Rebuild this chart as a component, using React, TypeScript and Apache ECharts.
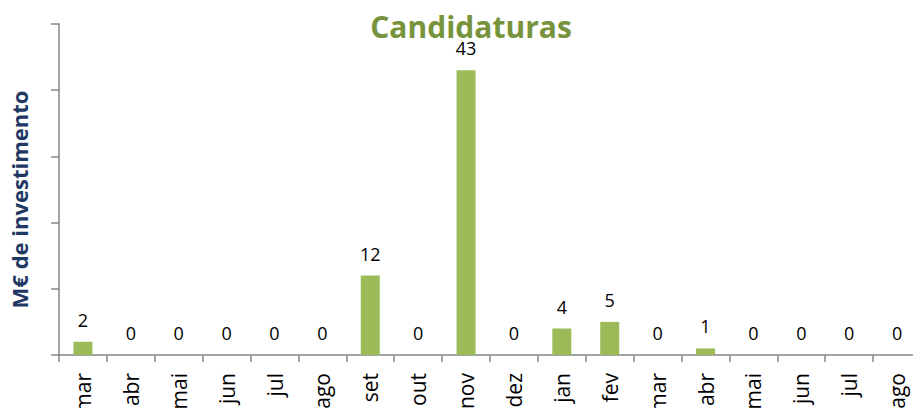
import React, { useEffect, useRef } from "react";
import * as echarts from "echarts";

const categories = ["mar", "abr", "mai", "jun", "jul", "ago", "set", "out", "nov", "dez", "jan", "fev", "mar", "abr", "mai", "jun", "jul", "ago"];
const values = [2, 0, 0, 0, 0, 0, 12, 0, 43, 0, 4, 5, 0, 1, 0, 0, 0, 0];
const titleText = "Candidaturas";
const yAxisName = "M€ de investimento";

export default function App() {
  const ref = useRef<HTMLDivElement>(null);
  useEffect(() => {
    if (!ref.current) return;
    const chart = echarts.init(ref.current, undefined, { renderer: "svg" });
    const font = "'Open Sans', 'DejaVu Sans', sans-serif";
    chart.setOption({
      animation: false,
      title: {
        text: titleText,
        left: 466,
        textAlign: "center",
        top: 6,
        textStyle: { color: "#77933C", fontSize: 30, fontWeight: "bold", fontFamily: font },
      },
      grid: { left: 57, right: -3, top: 24, bottom: 61, containLabel: false },
      xAxis: {
        type: "category",
        data: categories,
        boundaryGap: true,
        axisLine: { lineStyle: { color: "#868686", width: 1.5 } },
        axisTick: { show: true, length: 7, alignWithLabel: false, lineStyle: { color: "#868686", width: 1.5 } },
        axisLabel: {
          interval: 0,
          rotate: 90,
          color: "#000",
          fontSize: 21,
          fontFamily: font,
          margin: 18,
        },
      },
      yAxis: {
        type: "value",
        min: 0,
        max: 50,
        interval: 10,
        name: yAxisName,
        nameLocation: "middle",
        nameGap: 29,
        nameTextStyle: { color: "#1F3864", fontSize: 22, fontWeight: "bold", fontFamily: font, padding: [0, 20, 0, 0] },
        axisLine: { show: true, lineStyle: { color: "#868686", width: 1.5 } },
        axisTick: { show: true, length: 8, lineStyle: { color: "#868686", width: 1.5 } },
        axisLabel: { show: false },
        splitLine: { show: false },
      },
      series: [
        {
          type: "bar",
          data: values,
          barWidth: 19,
          itemStyle: { color: "#9BBB59" },
          label: {
            show: true,
            position: "top",
            distance: 13,
            color: "#000",
            fontSize: 18,
            fontFamily: font,
          },
        },
      ],
    });
    return () => chart.dispose();
  }, []);
  return <div ref={ref} style={{ width: 921, height: 416, margin: -8 }} />;
}
